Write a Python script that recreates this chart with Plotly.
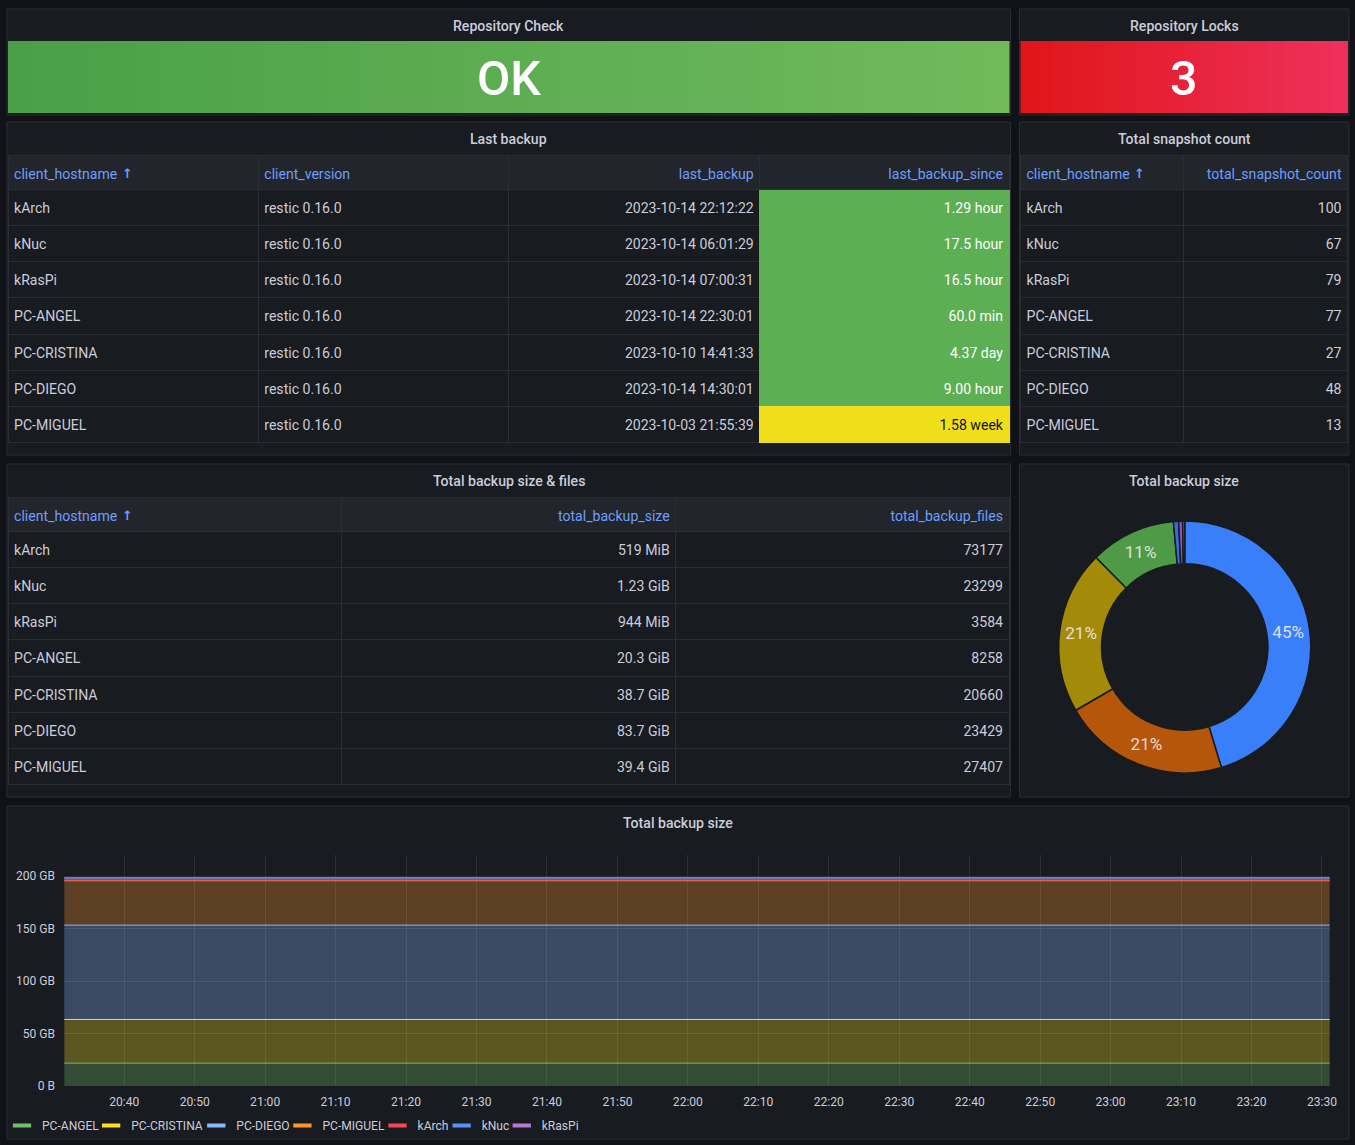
import plotly.graph_objects as go

# reference pixel grid; the page is captured full-size and shrunk to the
# window, so the figure is drawn a little larger than the window
W, H = 1355, 1145
FW, FH = 1364, 1152
K = FH / H

# --- data ---
hosts = ["kArch", "kNuc", "kRasPi", "PC-ANGEL", "PC-CRISTINA", "PC-DIEGO", "PC-MIGUEL"]
client_version = ["restic 0.16.0"] * 7
last_backup = ["2023-10-14 22:12:22", "2023-10-14 06:01:29", "2023-10-14 07:00:31",
               "2023-10-14 22:30:01", "2023-10-10 14:41:33", "2023-10-14 14:30:01",
               "2023-10-03 21:55:39"]
since_value = [1.29, 17.5, 16.5, 60.0, 4.37, 9.00, 1.58]
since_unit = ["hour", "hour", "hour", "min", "day", "hour", "week"]
snapshot_count = [100, 67, 79, 77, 27, 48, 13]
size_value = [519, 1.23, 944, 20.3, 38.7, 83.7, 39.4]
size_unit = ["MiB", "GiB", "MiB", "GiB", "GiB", "GiB", "GiB"]
backup_files = [73177, 23299, 3584, 8258, 20660, 23429, 27407]
repo_check = "OK"
repo_locks = 3

ts_hosts = ["PC-ANGEL", "PC-CRISTINA", "PC-DIEGO", "PC-MIGUEL", "kArch", "kNuc", "kRasPi"]
ts_time = ["2023-10-14 20:31:30", "2023-10-14 23:31:05"]
y_ticks = [0, 50, 100, 150, 200]
y_tick_text = ["0 B", "50 GB", "100 GB", "150 GB", "200 GB"]

# --- colours ---
BG = "#111217"
PANEL = "#181b1f"
BORDER = "#2a2d33"
TEXT = "#ccccdc"
LINK = "#6e9fff"
HEAD_BG = "#22252b"
NONE = "rgba(0,0,0,0)"
series_color = {"PC-ANGEL": "#73BF69", "PC-CRISTINA": "#FADE2A", "PC-DIEGO": "#8AB8FF",
                "PC-MIGUEL": "#FF9830", "kArch": "#F2495C", "kNuc": "#5794F2", "kRasPi": "#B877D9"}
pie_color = {"PC-ANGEL": "#4E9A47", "PC-CRISTINA": "#A38A08", "PC-DIEGO": "#3A7FFA",
             "PC-MIGUEL": "#B5560A", "kArch": "#D0343F", "kNuc": "#2F6FE0", "kRasPi": "#9C4DC4"}
FONT = "Roboto, sans-serif"

unit_bytes = {"MiB": 2 ** 20, "GiB": 2 ** 30}
size_bytes = [v * unit_bytes[u] for v, u in zip(size_value, size_unit)]
size_text = [f"{v:g} {u}" for v, u in zip(size_value, size_unit)]
unit_hours = {"min": 1 / 60, "hour": 1, "day": 24, "week": 168}
since_hours = [v * unit_hours[u] for v, u in zip(since_value, since_unit)]


def fmt_since(v, u):
    d = 2 if v < 10 else 1 if v < 100 else 0
    return f"{v:.{d}f} {u}"


since_text = [fmt_since(v, u) for v, u in zip(since_value, since_unit)]
since_fill = ["#F1DE1B" if h >= 168 else "#5DAF54" for h in since_hours]
since_font = ["#111111" if h >= 168 else "#ffffff" for h in since_hours]


def px(x):
    return x / W


def py(y):
    return 1 - y / H


def fs(size):
    return size * K


def rect(x0, y0, x1, y1, fill, line=None):
    return dict(type="rect", xref="paper", yref="paper", layer="below",
                x0=px(x0), x1=px(x1), y0=py(y1), y1=py(y0), fillcolor=fill,
                line=dict(color=line or fill, width=1 if line else 0))


def gradient(x0, y0, x1, y1, c0, c1, n=40):
    out = []
    step = (x1 - x0) / n
    for i in range(n):
        t = i / (n - 1)
        c = tuple(round(a + (b - a) * t) for a, b in zip(c0, c1))
        xa = x0 + i * step
        xb = min(x1, xa + step + 1)
        out.append(rect(xa, y0, xb, y1, "rgb(%d,%d,%d)" % c))
    return out


def label(x, y, text, size, color=TEXT, weight=400, family=FONT):
    return dict(x=px(x), y=py(y), xref="paper", yref="paper", text=text, showarrow=False,
                xanchor="center", yanchor="middle",
                font=dict(size=fs(size), color=color, family=family, weight=weight))


panels = [
    ((7, 9, 1009, 115), "Repository Check"),
    ((1018, 9, 1347, 115), "Repository Locks"),
    ((7, 122, 1009, 455), "Last backup"),
    ((1018, 122, 1347, 455), "Total snapshot count"),
    ((7, 464, 1009, 797), "Total backup size & files"),
    ((1018, 464, 1347, 797), "Total backup size"),
    ((7, 806, 1347, 1139), "Total backup size"),
]

shapes = []
annotations = []
for (x0, y0, x1, y1), title in panels:
    shapes.append(rect(x0, y0, x1, y1, PANEL, BORDER))
    annotations.append(label((x0 + x1) / 2, y0 + 17, title, 14, weight=500))

shapes += gradient(8, 41, 1008, 113, (74, 160, 71), (112, 186, 92))
shapes += gradient(1019, 41, 1346, 113, (224, 22, 26), (238, 48, 90), n=20)
annotations.append(label(508, 79, repo_check, 48, "#ffffff", 500))
annotations.append(label(1182, 79, str(repo_locks), 48, "#ffffff", 500))

fig = go.Figure()


def table(bounds, y0, headers, cols, align, fills=None, fcolors=None):
    n = len(cols)
    x0, x1 = bounds[0], bounds[-1]
    fills = fills or [PANEL] * n
    lines = [f if isinstance(f, list) else BORDER for f in fills]
    # background, borders and fills
    fig.add_trace(go.Table(
        domain=dict(x=[px(x0), px(x1)], y=[py(y0 + 292), py(y0)]),
        columnwidth=[b - a for a, b in zip(bounds, bounds[1:])],
        header=dict(values=[""] * n, fill_color=HEAD_BG, line_color=BORDER, height=34 * K),
        cells=dict(values=[[""] * len(cols[0])] * n, fill_color=fills,
                   line_color=lines, height=36 * K),
    ))
    # text layer, nudged so it sits centred in each row with Grafana's 6px padding
    tb = []
    for k, b in enumerate(bounds):
        shift = 0
        if k < n and align[k] == "left":
            shift = -2
        if k > 0 and align[k - 1] == "right":
            shift = 2
        tb.append(b + shift)
    fig.add_trace(go.Table(
        domain=dict(x=[px(tb[0]), px(tb[-1])], y=[py(y0 + 297), py(y0 + 5)]),
        columnwidth=[b - a for a, b in zip(tb, tb[1:])],
        header=dict(values=headers, fill_color=NONE, line_color=NONE, height=34 * K,
                    align=align, font=dict(color=LINK, size=fs(14), family=FONT)),
        cells=dict(values=cols, fill_color=NONE, line_color=NONE, height=36 * K,
                   align=align, font=dict(color=fcolors or [TEXT] * n, size=fs(14), family=FONT)),
    ))
    # sort indicator next to the first header
    annotations.append(label(x0 + 119, y0 + 18, "<b>\u2191</b>", 13, LINK, family="DejaVu Sans"))


table([8, 258, 508, 759, 1008], 155,
      ["client_hostname", "client_version", "last_backup", "last_backup_since"],
      [hosts, client_version, last_backup, since_text],
      ["left", "left", "right", "right"],
      fills=[PANEL, PANEL, PANEL, since_fill],
      fcolors=[TEXT, TEXT, TEXT, since_font])
table([1019, 1182, 1346], 155,
      ["client_hostname", "total_snapshot_count"],
      [hosts, snapshot_count],
      ["left", "right"])
table([8, 341, 675, 1008], 497,
      ["client_hostname", "total_backup_size", "total_backup_files"],
      [hosts, size_text, backup_files],
      ["left", "right", "right"])

# donut
total = sum(size_bytes)
pie_text = [f"{b / total:.0%}" if b / total > 0.05 else "" for b in size_bytes]
cx, cy, r = 1183, 647, 126
fig.add_trace(go.Pie(
    labels=hosts, values=size_bytes, text=pie_text, texttemplate="%{text}",
    textposition="inside", insidetextorientation="horizontal", hole=0.66,
    sort=True, direction="clockwise", showlegend=False,
    marker=dict(colors=[pie_color[h] for h in hosts], line=dict(color=PANEL, width=1.5)),
    textfont=dict(size=fs(17), color="rgba(235,235,240,0.9)", family=FONT),
    domain=dict(x=[px(cx - r), px(cx + r)], y=[py(cy + r), py(cy - r)]),
))

# stacked time series, values in GB
gb = {h: b / 1e9 for h, b in zip(hosts, size_bytes)}
for h in ts_hosts:
    c = series_color[h]
    rgb = tuple(int(c[i:i + 2], 16) for i in (1, 3, 5))
    fig.add_trace(go.Scatter(
        x=ts_time, y=[gb[h]] * len(ts_time), mode="lines", stackgroup="one",
        line=dict(color=c, width=1), fillcolor="rgba(%d,%d,%d,0.3)" % rgb,
        showlegend=False, hoverinfo="skip"))

# one legend per entry so the spacing follows Grafana's compact legend
legend_text_x = [42, 131, 236, 322, 417, 481, 541]
legends = {}
for i, h in enumerate(ts_hosts):
    key = "legend" if i == 0 else f"legend{i + 1}"
    fig.add_trace(go.Scatter(
        x=[None], y=[None], mode="markers", name=h, legend=key,
        marker=dict(symbol="line-ew", size=13 * K, color=series_color[h],
                    line=dict(color=series_color[h], width=4 * K))))
    legends[key] = dict(x=px(legend_text_x[i] - 40), y=py(1111), xanchor="left", yanchor="top",
                        orientation="h", font=dict(size=fs(12), color=TEXT, family=FONT),
                        bgcolor=NONE, itemwidth=30)

fig.update_layout(
    width=FW, height=FH, margin=dict(l=0, r=0, t=0, b=0),
    paper_bgcolor=BG, plot_bgcolor=NONE,
    font=dict(family=FONT, color=TEXT, size=fs(12)),
    shapes=shapes, annotations=annotations,
    xaxis=dict(domain=[px(64), px(1328)], type="date",
               range=["2023-10-14 20:31:28", "2023-10-14 23:31:08"],
               dtick=600000, tickformat="%H:%M", showgrid=True,
               gridcolor="rgba(204,204,220,0.12)", zeroline=False, showline=False,
               tickfont=dict(size=fs(12), color=TEXT), ticklabelstandoff=7),
    yaxis=dict(domain=[py(1086), py(855)], range=[0, 220], tickvals=y_ticks,
               ticktext=y_tick_text, showgrid=True, gridcolor="rgba(204,204,220,0.12)",
               zeroline=False, showline=False, tickfont=dict(size=fs(12), color=TEXT),
               ticklabelstandoff=8),
    **legends,
)

# drop the tables' (faintly visible) scrollbar hit zones
fix = ("document.body.style.margin='0';document.body.style.overflow='hidden';"
       "document.querySelectorAll('.scrollbar-kit').forEach(function(e){e.remove();});")
fig.write_html("out.html", config={"displayModeBar": False}, post_script=fix)
